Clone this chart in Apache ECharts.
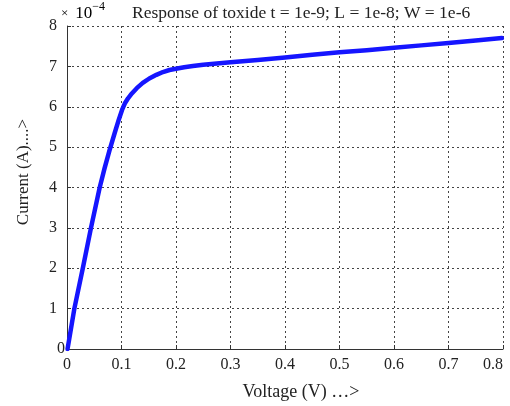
<!DOCTYPE html>
<html>
<head>
<meta charset="utf-8">
<script src="https://cdn.jsdelivr.net/npm/echarts@6/dist/echarts.min.js"></script>
<style>html,body{margin:0;padding:0;background:#fff}#c{width:510px;height:406px}</style>
</head>
<body>
<div id="c"></div>
<script>
// Voltage (V)
var voltage = [0.001, 0.0135, 0.029, 0.044, 0.060, 0.069, 0.078, 0.0875, 0.095, 0.101, 0.106, 0.112, 0.119, 0.128, 0.139, 0.151, 0.164, 0.176, 0.188, 0.200, 0.215, 0.231, 0.250, 0.275, 0.300, 0.350, 0.400, 0.450, 0.500, 0.550, 0.600, 0.650, 0.700, 0.750, 0.798];
// Current (A), in units of 1e-4
var current = [0, 1.0, 2.0, 3.0, 4.0, 4.48, 4.92, 5.35, 5.68, 5.92, 6.08, 6.21, 6.33, 6.46, 6.59, 6.70, 6.79, 6.86, 6.91, 6.94, 6.98, 7.01, 7.04, 7.07, 7.10, 7.16, 7.22, 7.29, 7.35, 7.40, 7.46, 7.52, 7.58, 7.64, 7.70];
var xTicks = ['0', '0.1', '0.2', '0.3', '0.4', '0.5', '0.6', '0.7', '0.8'];
var yTicks = ['0', '1', '2', '3', '4', '5', '6', '7', '8'];
var titleText = 'Response of toxide t = 1e-9; L = 1e-8; W = 1e-6';
var xName = 'Voltage (V) \u2026>';
var yName = 'Current (A)....>';

var data = voltage.map(function (v, i) { return [v, current[i]]; });
var font = 'Liberation Serif, Times New Roman, serif';
var chart = echarts.init(document.getElementById('c'));
chart.setOption({
  animation: false,
  backgroundColor: '#fff',
  grid: { left: 67, right: 7, top: 26, bottom: 57, outerBoundsMode: 'none', containLabel: false },
  xAxis: {
    type: 'value', min: 0, max: 0.8, interval: 0.1,
    axisLine: { show: true, lineStyle: { color: '#333', width: 1 } },
    axisTick: { show: true, inside: true, length: 4, lineStyle: { color: '#333' } },
    axisLabel: { color: '#222', fontFamily: font, fontSize: 16, margin: 8, alignMaxLabel: 'right',
      formatter: function (v) { var i = Math.round(v * 10); return xTicks[i]; } },
    splitLine: { show: true, lineStyle: { color: '#444', type: [2, 3], width: 1 } }
  },
  yAxis: {
    type: 'value', min: 0, max: 8, interval: 1,
    axisLine: { show: true, lineStyle: { color: '#333', width: 1 } },
    axisTick: { show: true, inside: true, length: 4, lineStyle: { color: '#333' } },
    axisLabel: { color: '#222', fontFamily: font, fontSize: 16, margin: 10, alignMinLabel: 'bottom',
      formatter: function (v) { return yTicks[Math.round(v)]; } },
    splitLine: { show: true, lineStyle: { color: '#444', type: [2, 3], width: 1 } }
  },
  series: [{
    type: 'line', data: data, showSymbol: false, smooth: false,
    lineStyle: { color: '#1515ff', width: 4.5, join: 'round', cap: 'round' }
  }],
  graphic: [
    { type: 'text', left: 132, top: 4, style: { text: titleText, font: '17.5px ' + font, fill: '#222' } },
    { type: 'text', left: 61, top: 1, style: {
        text: '{x|\u00d7}{b|10}{s|\u22124}',
        rich: {
          x: { fontFamily: font, fontSize: 13, color: '#999', padding: [6, 7, 0, 0] },
          b: { fontFamily: font, fontSize: 17, color: '#222', padding: [5, 0, 0, 0] },
          s: { fontFamily: font, fontSize: 12, color: '#222', padding: [0, 0, 8, 0] }
        } } },
    { type: 'text', x: 301, y: 392, style: { text: xName, font: '18px ' + font, fill: '#222', align: 'center', verticalAlign: 'middle' } },
    { type: 'text', x: 24, y: 172, rotation: Math.PI / 2, style: { text: yName, font: '17px ' + font, fill: '#222', align: 'center', verticalAlign: 'middle' } }
  ]
});
</script>
</body>
</html>
